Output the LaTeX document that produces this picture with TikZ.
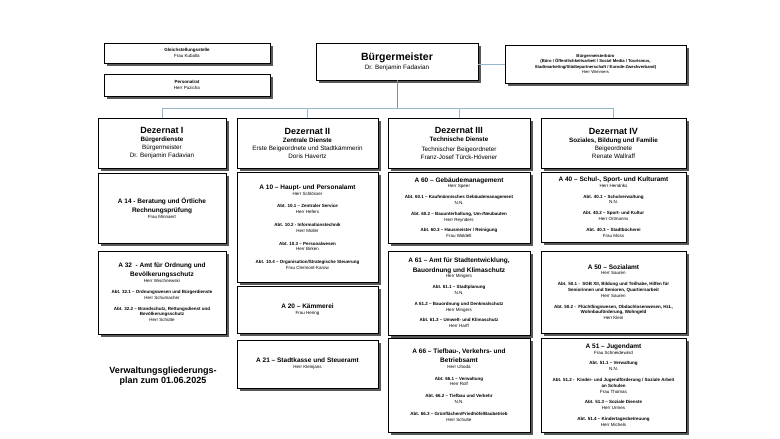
\documentclass[tikz,border=0pt]{standalone}
\usepackage{fontspec}
\setmainfont{Liberation Sans}
\usepackage{tikz}
\usetikzlibrary{shadows}
\definecolor{barblue}{RGB}{150,182,204}
\definecolor{stemgray}{RGB}{140,140,140}
\newcommand{\amt}[1]{{\fontsize{6.5}{7.5}\selectfont\bfseries #1}}

\begin{document}
\begin{tikzpicture}[x=1pt,y=-1pt,
  box/.style={rectangle, draw, line width=0.6pt, fill=white, inner sep=2pt,
              align=center, font=\fontsize{4.5}{5.8}\selectfont,
              drop shadow={shadow xshift=2.5pt, shadow yshift=-2.5pt,
                           fill=black!65, opacity=1}},
  dez/.style={box, font=\fontsize{6.3}{8}\selectfont},
  bar/.style={line width=0.8pt, barblue},
  stem/.style={line width=0.8pt, stemgray}
]
\useasboundingbox (0,0) rectangle (780,439);

% Verwaltungsspitze
\node[box, minimum width=166pt, minimum height=20pt] (gleich) at (187,53)
  {\textbf{Gleichstellungsstelle}\\Frau Kuballa};
\node[box, minimum width=166pt, minimum height=22pt] (prat) at (187,85)
  {\textbf{Personalrat}\\Herr Puzicha};
\node[box, minimum width=162pt, minimum height=37pt] (bm) at (397,61.5)
  {{\fontsize{10.5}{12}\selectfont\bfseries Bürgermeister}\\[1pt]{\fontsize{6.3}{7.5}\selectfont Dr. Benjamin Fadavian}};
\node[box, minimum width=181pt, minimum height=38pt, font=\fontsize{4.2}{5.2}\selectfont] (buero) at (595.5,64)
  {\textbf{Bürgermeisterbüro}\\\textbf{(Büro / Öffentlichkeitsarbeit / Social Media / Tourismus,}\\\textbf{Stadtmarketing/Städtepartnerschaft / Eurode-Zweckverband)}\\Herr Wimmers};

% Dezernate
\node[dez, minimum width=128pt, minimum height=50pt] (dez1) at (162,143)
  {{\fontsize{9}{11}\selectfont\bfseries Dezernat I}\\\textbf{Bürgerdienste}\\Bürgermeister\\Dr. Benjamin Fadavian};
\node[dez, minimum width=141pt, minimum height=50pt] (dez2) at (307.5,143)
  {{\fontsize{9}{11}\selectfont\bfseries Dezernat II}\\\textbf{Zentrale Dienste}\\Erste Beigeordnete und Stadtkämmerin\\Doris Havertz};
\node[dez, minimum width=142pt, minimum height=50pt] (dez3) at (459,143)
  {{\fontsize{9}{11}\selectfont\bfseries Dezernat III}\\\textbf{Technische Dienste}\\[2pt]Technischer Beigeordneter\\Franz-Josef Türck-Hövener};
\node[dez, minimum width=145pt, minimum height=50pt] (dez4) at (613.5,143)
  {{\fontsize{9}{11}\selectfont\bfseries Dezernat IV}\\\textbf{Soziales, Bildung und Familie}\\Beigeordnete\\Renate Wallraff};

% Dezernat I
\node[box, minimum width=128pt, minimum height=70pt] (a14) at (162,208)
  {\amt{A 14 - Beratung und Örtliche}\\[2pt]\amt{Rechnungsprüfung}\\Frau Minnaert};
\node[box, minimum width=128pt, minimum height=83pt] (a32) at (162,292.5)
  {\amt{A 32\ \ - Amt für Ordnung und}\\[2pt]\amt{Bevölkerungsschutz}\\Herr Wischnewski\\[5pt]
   \textbf{Abt. 32.1 -- Ordnungswesen und Bürgerdienste}\\Herr Schumacher\\[5pt]
   \textbf{Abt. 32.2 -- Brandschutz, Rettungsdienst und}\\\textbf{Bevölkerungsschutz}\\Herr Schütte};

% Dezernat II
\node[box, minimum width=141pt, minimum height=110pt] (a10) at (307.5,227)
  {\amt{A 10 -- Haupt- und Personalamt}\\Herr Schlösser\\[7pt]
   \textbf{Abt. 10.1 -- Zentraler Service}\\Herr Hefers\\[7pt]
   \textbf{Abt. 10.2 - Informationstechnik}\\Herr Müller\\[7pt]
   \textbf{Abt. 10.3 -- Personalwesen}\\Herr Birken\\[7pt]
   \textbf{Abt. 10.4 -- Organisation/Strategische Steuerung}\\Frau Clermont-Karow};
\node[box, minimum width=141pt, minimum height=47pt] (a20) at (307.5,309.5)
  {\amt{A 20 -- Kämmerei}\\Frau Hering};
\node[box, minimum width=141pt, minimum height=48pt] (a21) at (307.5,364)
  {\amt{A 21 -- Stadtkasse und Steueramt}\\Herr Kleinjans};

% Dezernat III
\node[box, minimum width=142pt, minimum height=71pt] (a60) at (459,207.5)
  {\amt{A 60 -- Gebäudemanagement}\\Herr Speer\\[5pt]
   \textbf{Abt. 60.1 -- Kaufmännisches Gebäudemanagement}\\N.N.\\[5pt]
   \textbf{Abt. 60.2 -- Bauunterhaltung, Um-/Neubauten}\\Herr Reynders\\[5pt]
   \textbf{Abt. 60.3 -- Hausmeister / Reinigung}\\Frau Woldelt};
\node[box, minimum width=142pt, minimum height=84pt] (a61) at (459,293)
  {\amt{A 61 -- Amt für Stadtentwicklung,}\\[2pt]\amt{Bauordnung und Klimaschutz}\\Herr Mingers\\[5pt]
   \textbf{Abt. 61.1 -- Stadtplanung}\\N.N.\\[5pt]
   \textbf{A 61.2 -- Bauordnung und Denkmalschutz}\\Herr Mingers\\[5pt]
   \textbf{Abt. 61.3 -- Umwelt- und Klimaschutz}\\Herr Harff};
\node[box, minimum width=142pt, minimum height=94pt] (a66) at (459,385)
  {\amt{A 66 -- Tiefbau-, Verkehrs- und}\\[3pt]\amt{Betriebsamt}\\Herr Uhoda\\[6pt]
   \textbf{Abt. 66.1 -- Verwaltung}\\Herr Rolf\\[6pt]
   \textbf{Abt. 66.2 -- Tiefbau und Verkehr}\\N.N.\\[6pt]
   \textbf{Abt. 66.3 -- Grünflächen/Friedhöfe/Baubetrieb}\\Herr Schulte};

% Dezernat IV
\node[box, minimum width=145pt, minimum height=70pt] (a40) at (613.5,207)
  {\amt{A 40 -- Schul-, Sport- und Kulturamt}\\Herr Hendriks\\[5pt]
   \textbf{Abt. 40.1 -- Schulverwaltung}\\N.N.\\[5pt]
   \textbf{Abt. 40.2 -- Sport- und Kultur}\\Herr Ortmanns\\[5pt]
   \textbf{Abt. 40.3 -- Stadtbücherei}\\Frau Moss};
\node[box, minimum width=145pt, minimum height=82pt] (a50) at (613.5,292)
  {\amt{A 50 -- Sozialamt}\\Herr Sauren\\[5pt]
   \textbf{Abt. 50.1 -\ \ SGB XII, Bildung und Teilhabe, Hilfen für}\\\textbf{Seniorinnen und Senioren, Quartiersarbeit}\\Herr Sauren\\[5pt]
   \textbf{Abt. 50.2 -\ \ Flüchtlingswesen, Obdachlosenwesen, HzL,}\\\textbf{Wohnbauförderung, Wohngeld}\\Herr Klein};
\node[box, minimum width=145pt, minimum height=94pt] (a51) at (613.5,385)
  {\amt{A 51 -- Jugendamt}\\Frau Schneidewind\\[5pt]
   \textbf{Abt. 51.1 -- Verwaltung}\\N.N.\\[5pt]
   \textbf{Abt. 51.2 -\ \ Kinder- und Jugendförderung / Soziale Arbeit}\\\textbf{an Schulen}\\Frau Thomas\\[5pt]
   \textbf{Abt. 51.3 -- Soziale Dienste}\\Herr Urmes\\[5pt]
   \textbf{Abt. 51.4 -- Kindertagesbetreuung}\\Herr Michels};

\node[align=center, font=\fontsize{9}{10.5}\selectfont\bfseries] (title) at (163,376)
  {Verwaltungsgliederungs-\\plan zum 01.06.2025};

% Verbindungen
\coordinate (hub) at (397,108);
\draw[stem] (bm) -- (hub);
\draw[bar] (hub) -| (dez1.north);
\draw[bar] (hub) -| (dez2.north);
\draw[bar] (hub) -| (dez3.north);
\draw[bar] (hub) -| (dez4.north);
\draw[bar] (buero.west) -- (buero.west -| bm.east);

\end{tikzpicture}
\end{document}
